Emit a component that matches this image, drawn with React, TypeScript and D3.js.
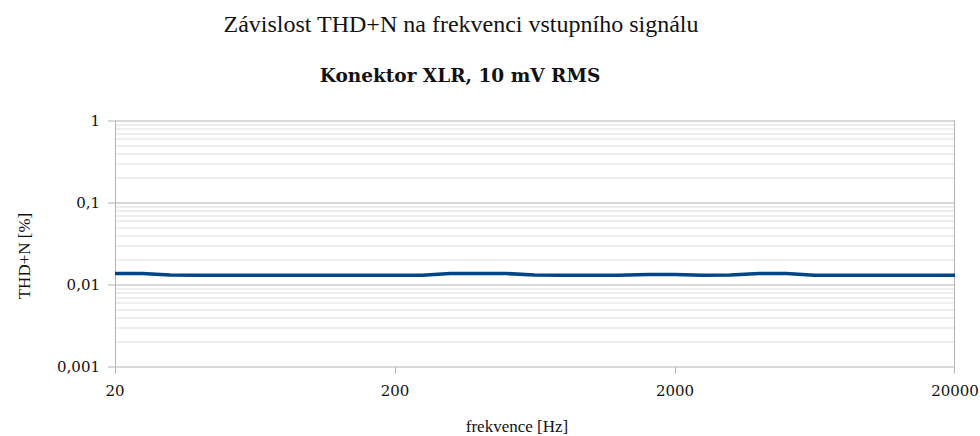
import React, { useRef, useEffect } from 'react';
import * as d3 from 'd3';

const width = 980;
const height = 436;

const title = 'Závislost THD+N na frekvenci vstupního signálu';
const subtitle = 'Konektor XLR, 10 mV RMS';
const xLabel = 'frekvence [Hz]';
const yLabel = 'THD+N [%]';

// měřené kmitočty [Hz] a THD+N [%]
const freqs = [20, 25, 31.5, 40, 50, 63, 80, 100, 125, 160, 200, 250, 315, 400, 500, 630, 800, 1000, 1250, 1600, 2000, 2500, 3150, 4000, 5000, 6300, 8000, 10000, 12500, 16000, 20000];
const thdn = [0.0136, 0.0136, 0.0131, 0.013, 0.013, 0.013, 0.013, 0.013, 0.013, 0.013, 0.013, 0.013, 0.0136, 0.0136, 0.0136, 0.0131, 0.013, 0.013, 0.013, 0.0132, 0.0132, 0.013, 0.0131, 0.0136, 0.0136, 0.013, 0.013, 0.013, 0.013, 0.013, 0.013];

const xTicks = [20, 200, 2000, 20000];
const yTicks = [0.001, 0.01, 0.1, 1];
const yTickLabels = ['0,001', '0,01', '0,1', '1'];

const App = () => {
  const svgRef = useRef<SVGSVGElement>(null);

  useEffect(() => {
    document.body.style.margin = '0';
    const svg = d3.select(svgRef.current);
    svg.selectAll('*').remove();

    const margin = { top: 120.5, right: 25, bottom: 69.5, left: 115 };
    const innerWidth = width - margin.left - margin.right;
    const innerHeight = height - margin.top - margin.bottom;

    const x = d3.scaleLog().domain([20, 20000]).range([0, innerWidth]);
    const y = d3.scaleLog().domain([0.001, 1]).range([innerHeight, 0]);

    const font = '"Liberation Serif", "DejaVu Serif", serif';
    const font2 = '"DejaVu Serif", serif';

    svg.append('text')
      .attr('x', 461).attr('y', 32)
      .attr('text-anchor', 'middle')
      .style('font-family', font).style('font-size', '24px')
      .attr('fill', '#111')
      .text(title);

    svg.append('text')
      .attr('x', 460).attr('y', 82)
      .attr('text-anchor', 'middle')
      .style('font-family', font2).style('font-size', '18.5px').style('font-weight', 'bold')
      .attr('fill', '#111')
      .text(subtitle);

    const g = svg.append('g').attr('transform', `translate(${margin.left},${margin.top})`);

    // vedlejší mřížka
    const minor: number[] = [];
    for (let d = 0.001; d < 1; d *= 10) {
      for (let k = 2; k <= 9; k++) minor.push(d * k);
    }
    g.selectAll('.minor')
      .data(minor)
      .enter().append('line')
      .attr('x1', 0).attr('x2', innerWidth)
      .attr('y1', d => Math.round(y(d)) + 0.5).attr('y2', d => Math.round(y(d)) + 0.5)
      .attr('stroke', '#dddddd').attr('stroke-width', 1);

    g.selectAll('.major')
      .data(yTicks)
      .enter().append('line')
      .attr('x1', -7).attr('x2', innerWidth)
      .attr('y1', d => Math.round(y(d)) + 0.5).attr('y2', d => Math.round(y(d)) + 0.5)
      .attr('stroke', '#b3b3b3').attr('stroke-width', 1);

    // osy
    g.append('line')
      .attr('x1', 0.5).attr('x2', 0.5).attr('y1', 0).attr('y2', innerHeight)
      .attr('stroke', '#b3b3b3');
    g.append('line')
      .attr('x1', innerWidth - 0.5).attr('x2', innerWidth - 0.5).attr('y1', 0).attr('y2', innerHeight)
      .attr('stroke', '#b3b3b3');

    g.selectAll('.xtick')
      .data(xTicks)
      .enter().append('line')
      .attr('x1', d => Math.min(Math.round(x(d)) + 0.5, innerWidth - 0.5))
      .attr('x2', d => Math.min(Math.round(x(d)) + 0.5, innerWidth - 0.5))
      .attr('y1', innerHeight).attr('y2', innerHeight + 7)
      .attr('stroke', '#b3b3b3');

    g.selectAll('.xlabel')
      .data(xTicks)
      .enter().append('text')
      .attr('x', d => x(d)).attr('y', innerHeight + 29)
      .attr('text-anchor', 'middle')
      .style('font-family', font2).style('font-size', '15px')
      .attr('fill', '#111')
      .text(d => String(d));

    g.selectAll('.ylabel')
      .data(yTicks)
      .enter().append('text')
      .attr('x', -15).attr('y', d => y(d) + 5)
      .attr('text-anchor', 'end')
      .style('font-family', font2).style('font-size', '15px')
      .attr('fill', '#111')
      .text((d, i) => yTickLabels[i]);

    // křivka
    const data = freqs.map((f, i) => ({ f, v: thdn[i] }));
    const line = d3.line<{ f: number; v: number }>()
      .x(d => x(d.f))
      .y(d => y(d.v));
    g.append('path')
      .datum(data)
      .attr('d', line)
      .attr('fill', 'none')
      .attr('stroke', '#004586')
      .attr('stroke-width', 3.5);

    svg.append('text')
      .attr('x', 517).attr('y', 432)
      .attr('text-anchor', 'middle')
      .style('font-family', font).style('font-size', '17px')
      .attr('fill', '#111')
      .text(xLabel);

    svg.append('text')
      .attr('transform', 'translate(30,256) rotate(-90)')
      .attr('text-anchor', 'middle')
      .style('font-family', font).style('font-size', '17px')
      .attr('fill', '#111')
      .text(yLabel);
  }, []);

  return <svg ref={svgRef} width={width} height={height} style={{ display: 'block' }}></svg>;
};

export default App;
